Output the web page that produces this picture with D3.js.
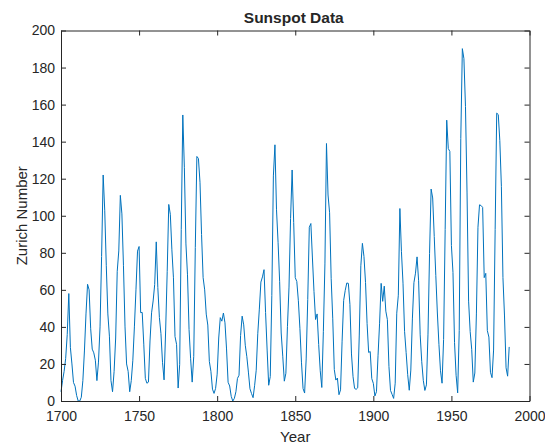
<!DOCTYPE html>
<html>
<head>
<meta charset="utf-8">
<script src="https://cdn.jsdelivr.net/npm/d3@7"></script>
<style>
  body { margin: 0; background: #fff; }
  text { font-family: "Liberation Sans", Arial, sans-serif; fill: #262626; }
</style>
</head>
<body>
<div id="chart"></div>
<script>
// yearly Zurich sunspot numbers, 1700-1987
var startYear = 1700;
var zurich = [
  5, 11, 16, 23, 36, 58, 29, 20, 10, 8,
  3, 0, 0, 2, 11, 27, 47, 63, 60, 39,
  28, 26, 22, 11, 21, 40, 78, 122, 103, 73,
  47, 35, 11, 5, 16, 34, 70, 81, 111, 101,
  73, 40, 20, 16, 5, 11, 22, 40, 60, 80.9,
  83.4, 47.7, 47.8, 30.7, 12.2, 9.6, 10.2, 32.4, 47.6, 54,
  62.9, 85.9, 61.2, 45.1, 36.4, 20.9, 11.4, 37.8, 69.8, 106.1,
  100.8, 81.6, 66.5, 34.8, 30.6, 7, 19.8, 92.5, 154.4, 125.9,
  84.8, 68.1, 38.5, 22.8, 10.2, 24.1, 82.9, 132, 130.9, 118.1,
  89.9, 66.6, 60, 46.9, 41, 21.3, 16, 6.4, 4.1, 6.8,
  14.5, 34, 45, 43.1, 47.5, 42.2, 28.1, 10.1, 8.1, 2.5,
  0, 1.4, 5, 12.2, 13.9, 35.4, 45.8, 41.1, 30.1, 23.9,
  15.6, 6.6, 4, 1.8, 8.5, 16.6, 36.3, 49.6, 64.2, 67,
  70.9, 47.8, 27.5, 8.5, 13.2, 56.9, 121.5, 138.3, 103.2, 85.7,
  64.6, 36.7, 24.2, 10.7, 15, 40.1, 61.5, 98.5, 124.7, 96.3,
  66.6, 64.5, 54.1, 39, 20.6, 6.7, 4.3, 22.7, 54.8, 93.8,
  95.8, 77.2, 59.1, 44, 47, 30.5, 16.3, 7.3, 37.6, 74,
  139, 111.2, 101.6, 66.2, 44.7, 17, 11.3, 12.4, 3.4, 6,
  32.3, 54.3, 59.7, 63.7, 63.5, 52.2, 25.4, 13.1, 6.8, 6.3,
  7.1, 35.6, 73, 85.1, 78, 64, 41.8, 26.2, 26.7, 12.1,
  9.5, 2.7, 5, 24.4, 42, 63.5, 53.8, 62, 48.5, 43.9,
  18.6, 5.7, 3.6, 1.4, 9.6, 47.4, 57.1, 103.9, 80.6, 63.6,
  37.6, 26.1, 14.2, 5.8, 16.7, 44.3, 63.9, 69, 77.8, 64.9,
  35.7, 21.2, 11.1, 5.7, 8.7, 36.1, 79.7, 114.4, 109.6, 88.8,
  67.8, 47.5, 30.6, 16.3, 9.6, 33.2, 92.6, 151.6, 136.3, 134.7,
  83.9, 69.4, 31.5, 13.9, 4.4, 38, 141.7, 190.2, 184.8, 159,
  112.3, 53.9, 37.5, 27.9, 10.2, 15.1, 47, 93.8, 105.9, 105.5,
  104.5, 66.6, 68.9, 38, 34.5, 15.5, 12.6, 27.5, 92.5, 155.4,
  154.6, 140.5, 115.9, 66.6, 45.9, 17.9, 13.4, 29.2
];
var xTicks = [1700, 1750, 1800, 1850, 1900, 1950, 2000];
var yTicks = [0, 20, 40, 60, 80, 100, 120, 140, 160, 180, 200];

var W = 545, H = 446;
var margin = {top: 30.5, right: 15.5, bottom: 45, left: 61};
var width = W - margin.left - margin.right,
    height = H - margin.top - margin.bottom;

var data = zurich.map(function(v, i) { return {year: startYear + i, n: v}; });

var svg = d3.select("#chart").append("svg")
    .attr("width", W)
    .attr("height", H);

var x = d3.scaleLinear().domain([1700, 2000]).range([0, width]);
var y = d3.scaleLinear().domain([0, 200]).range([height, 0]);

var g = svg.append("g")
    .attr("transform", "translate(" + margin.left + "," + margin.top + ")");

var line = d3.line()
    .x(function(d) { return x(d.year); })
    .y(function(d) { return y(d.n); });

g.append("path")
    .datum(data)
    .attr("fill", "none")
    .attr("stroke", "#0072BD")
    .attr("stroke-width", 1)
    .attr("stroke-linejoin", "round")
    .attr("d", line);

// axes, MATLAB style: ticks pointing inward, mirrored on top/right
var axisColor = "#262626";
function styleAxis(sel) {
    sel.select(".domain").attr("stroke", axisColor).attr("stroke-width", 1);
    sel.selectAll(".tick line").attr("stroke", axisColor).attr("stroke-width", 1);
    sel.selectAll(".tick text")
        .style("font-family", "'Liberation Sans', Arial, sans-serif")
        .style("font-size", "14px")
        .attr("fill", axisColor);
}

g.append("g")
    .attr("transform", "translate(0," + height + ")")
    .call(d3.axisBottom(x).tickValues(xTicks).tickFormat(d3.format("d"))
        .tickSizeInner(-5).tickSizeOuter(0).tickPadding(10))
    .call(styleAxis);

g.append("g")
    .call(d3.axisTop(x).tickValues(xTicks).tickFormat("")
        .tickSizeInner(-5).tickSizeOuter(0))
    .call(styleAxis);

g.append("g")
    .call(d3.axisLeft(y).tickValues(yTicks)
        .tickSizeInner(-5).tickSizeOuter(0).tickPadding(6))
    .call(styleAxis);

g.append("g")
    .attr("transform", "translate(" + width + ",0)")
    .call(d3.axisRight(y).tickValues(yTicks).tickFormat("")
        .tickSizeInner(-5).tickSizeOuter(0))
    .call(styleAxis);

svg.append("text")
    .attr("x", margin.left + width / 2 - 1.5)
    .attr("y", 23)
    .attr("text-anchor", "middle")
    .style("font-size", "15.5px")
    .style("font-weight", "bold")
    .text("Sunspot Data");

svg.append("text")
    .attr("x", margin.left + width / 2)
    .attr("y", 442)
    .attr("text-anchor", "middle")
    .style("font-size", "15px")
    .text("Year");

svg.append("text")
    .attr("transform", "translate(26.5," + (margin.top + height / 2) + ") rotate(-90)")
    .attr("text-anchor", "middle")
    .style("font-size", "15px")
    .text("Zurich Number");
</script>
</body>
</html>
